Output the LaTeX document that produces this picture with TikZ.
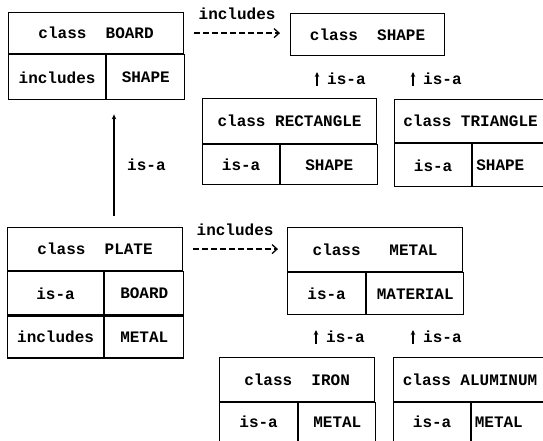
\documentclass[tikz,border=0pt]{standalone}
\usepackage{fontspec}
\setmonofont{Liberation Mono}
\usetikzlibrary{arrows.meta,calc,positioning}

\begin{document}
\begin{tikzpicture}[x=1pt, y=-1pt,
  every node/.style={font=\ttfamily\bfseries\fontsize{16}{18}\selectfont, inner sep=0pt, align=center},
  cell/.style={draw, line width=1.2pt, anchor=north west},
  incl/.style={line width=1.3pt, dash pattern=on 6pt off 3pt, -{Straight Barb[length=5pt,width=9pt]}},
  isarrow/.style={line width=1.3pt, -{Stealth[length=5pt,width=4.5pt]}}]
  \useasboundingbox (0,0) rectangle (543,441);
  \clip (0,0) rectangle (543,441);

  % class BOARD
  \node[cell, minimum width=175pt, minimum height=41pt] (boardHead) at (8,12) {class\ \ BOARD};
  \node[cell, minimum width=97pt, minimum height=45pt] (boardIncl) at (boardHead.south west) {includes};
  \node[cell, minimum width=78pt, minimum height=45pt] (boardShape) at (boardIncl.north east) {SHAPE};

  % class SHAPE
  \node[cell, minimum width=154pt, minimum height=42pt] (shapeHead) at (290,13) {class\ \ SHAPE};

  % class RECTANGLE
  \node[cell, minimum width=174pt, minimum height=45pt] (rectHead) at (202,98) {class RECTANGLE};
  \node[cell, minimum width=77pt, minimum height=40pt] (rectIsa) at (rectHead.south west) {is-a};
  \node[cell, minimum width=97pt, minimum height=40pt] (rectShape) at (rectIsa.north east) {SHAPE};

  % class TRIANGLE (runs off the right edge)
  \node[cell, minimum width=174pt, minimum height=43pt] (triHead) at (394,99) {\hspace*{-22pt}class TRIANGLE};
  \node[cell, minimum width=77pt, minimum height=43pt] (triIsa) at (triHead.south west) {is-a};
  \node[cell, minimum width=97pt, minimum height=43pt] (triShape) at (triIsa.north east) {\hspace*{-42pt}SHAPE};

  % class PLATE
  \node[cell, minimum width=175pt, minimum height=43pt] (plateHead) at (7,227) {class\ \ PLATE};
  \node[cell, minimum width=96pt, minimum height=43pt] (plateIsa) at (plateHead.south west) {is-a};
  \node[cell, minimum width=79pt, minimum height=43pt] (plateBoard) at (plateIsa.north east) {BOARD};
  \node[cell, minimum width=96pt, minimum height=42pt] (plateIncl) at (plateIsa.south west) {includes};
  \node[cell, minimum width=79pt, minimum height=42pt] (plateMetal) at (plateIncl.north east) {METAL};

  % class METAL
  \node[cell, minimum width=175pt, minimum height=44pt] (metalHead) at (287,227) {class\ \ \ METAL};
  \node[cell, minimum width=78pt, minimum height=42pt] (metalIsa) at (metalHead.south west) {is-a};
  \node[cell, minimum width=97pt, minimum height=42pt] (metalMat) at (metalIsa.north east) {MATERIAL};

  % class IRON (runs off the bottom edge)
  \node[cell, minimum width=155pt, minimum height=44pt] (ironHead) at (219,357) {class\ \ IRON};
  \node[cell, minimum width=78pt, minimum height=44pt] (ironIsa) at (ironHead.south west) {\raisebox{6pt}{is-a}};
  \node[cell, minimum width=77pt, minimum height=44pt] (ironMetal) at (ironIsa.north east) {\raisebox{6pt}{METAL}};

  % class ALUMINUM (runs off both edges)
  \node[cell, minimum width=175pt, minimum height=44pt] (aluHead) at (393,357) {\hspace*{-22pt}class ALUMINUM};
  \node[cell, minimum width=77pt, minimum height=44pt] (aluIsa) at (aluHead.south west) {\raisebox{6pt}{is-a}};
  \node[cell, minimum width=98pt, minimum height=44pt] (aluMetal) at (aluIsa.north east) {\raisebox{6pt}{\hspace*{-44pt}METAL}};

  % includes links
  \draw[incl, shorten <=10pt, shorten >=10pt] (boardHead.east) -- (boardHead.east -| shapeHead.west)
    node[midway, above=13pt] {includes};
  \draw[incl, shorten <=10pt, shorten >=9pt] (plateHead.east) -- (plateHead.east -| metalHead.west)
    node[midway, above=13pt] {includes};

  % is-a between PLATE and BOARD
  \coordinate (bigArr) at (114,0);
  \draw[isarrow, shorten <=11pt, shorten >=14pt] (plateHead.north -| bigArr) -- (boardIncl.south -| bigArr);
  \node[anchor=west] (isaPlate) at (127,165) {is-a};

  % short is-a marks
  \foreach \ax/\ay/\nm in {317/79/Rect, 413/79/Tri, 316/337/Iron, 413/337/Alu} {
    \coordinate (lo\nm) at (\ax,\ay+7);
    \coordinate (hi\nm) at (\ax,\ay-7);
    \draw[isarrow] (lo\nm) -- (hi\nm);
    \node[anchor=west] (isa\nm) at (\ax+10,\ay) {is-a};
  }
\end{tikzpicture}
\end{document}
